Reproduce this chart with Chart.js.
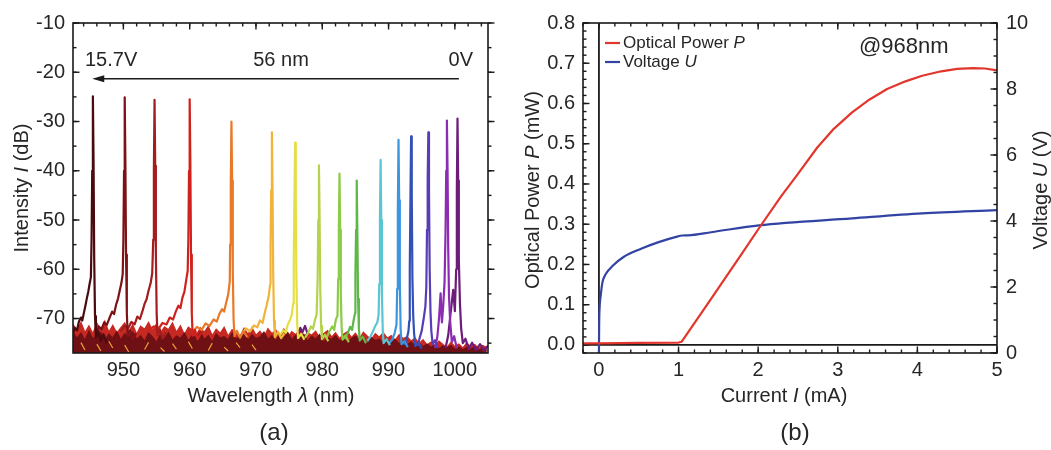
<!DOCTYPE html>
<html>
<head>
<meta charset="utf-8">
<title>Spectra and L-I-V</title>
<script src="https://cdn.jsdelivr.net/npm/chart.js@4.4.1/dist/chart.umd.min.js"></script>
<style>
  html, body { margin: 0; padding: 0; background: #fff; }
  #wrap { position: relative; width: 1051px; height: 450px; overflow: hidden; }
  #spectra { position: absolute; left: 0; top: 0; }
  #liv { position: absolute; left: 510px; top: 0; }
</style>
</head>
<body>
<div id="wrap">
  <canvas id="spectra" width="510" height="450"></canvas>
  <canvas id="liv" width="541" height="450"></canvas>
</div>
<script>
// ---------- panel (a): lasing spectra vs. tuning voltage ----------
const wlMin = 942.4, wlMax = 1005;
const dbMin = -77, dbMax = -10;
const wlTicks = [950, 960, 970, 980, 990, 1000];
const dbTicks = [-70, -60, -50, -40, -30, -20, -10];

// colours from 15.7 V (dark red) down to 0 V (purple)
const specColors = ['#4a0a0e', '#7c1216', '#a31c1e', '#d0221c', '#e8782a', '#f0b43a', '#e4e044', '#b4d24a',
                    '#8ccb46', '#5eb848', '#5ac6d2', '#3c96de', '#3350b6', '#5a3cb6', '#8c2cb2', '#6e1c7a'];

const spec01 = [[942.4,-73.0],[942.7,-71.9],[943.0,-72.4],[943.3,-70.6],[943.6,-69.8],[943.8,-70.4],[944.1,-68.5],[944.3,-67.2],[944.5,-65.8],[944.7,-64.6],[944.9,-63.0],[945.1,-61.6],[945.2,-54.0],[945.3,-40.0],[945.4,-24.9],[945.5,-38.0],[945.6,-58.0],[945.72,-69.5],[945.85,-73.8],[946.2,-72.6],[946.6,-74.5],[947.0,-73.2],[947.5,-75.0]];
const spec02 = [[945.9,-72.9],[946.3,-71.6],[946.7,-72.2],[947.1,-70.8],[947.5,-71.3],[947.9,-69.9],[948.3,-68.6],[948.6,-69.1],[948.9,-67.2],[949.2,-65.9],[949.4,-64.6],[949.7,-62.8],[949.9,-61.0],[950.0,-54.0],[950.1,-40.0],[950.2,-25.1],[950.3,-38.0],[950.4,-57.0],[950.52,-68.8],[950.65,-73.6],[951.0,-72.4],[951.4,-74.3],[951.9,-73.0]];
const spec03 = [[949.6,-72.6],[950.2,-71.5],[950.7,-72.0],[951.2,-70.7],[951.7,-71.2],[952.1,-69.6],[952.5,-70.1],[952.9,-68.4],[953.2,-67.0],[953.5,-66.1],[953.8,-64.3],[954.1,-62.9],[954.35,-60.8],[954.5,-54.0],[954.6,-40.0],[954.7,-25.6],[954.8,-39.0],[954.9,-57.0],[955.02,-69.0],[955.15,-73.4],[955.5,-72.2],[955.9,-74.1],[956.4,-72.8]];
const spec04 = [[953.8,-72.4],[954.6,-71.6],[955.3,-72.1],[955.9,-70.9],[956.5,-71.2],[957.0,-69.8],[957.5,-70.2],[957.9,-68.6],[958.3,-67.4],[958.6,-67.9],[958.9,-65.8],[959.2,-64.6],[959.45,-62.4],[959.7,-60.3],[959.8,-54.0],[959.9,-40.0],[960.0,-25.5],[960.1,-38.0],[960.2,-57.0],[960.32,-69.0],[960.45,-73.5],[960.8,-72.3],[961.2,-74.2],[961.7,-72.9]];
const spec05 = [[960.4,-72.8],[961.1,-71.7],[961.8,-72.3],[962.4,-71.0],[963.0,-71.5],[963.6,-70.2],[964.1,-70.6],[964.5,-69.0],[964.9,-68.1],[965.2,-68.6],[965.5,-66.8],[965.8,-65.2],[966.05,-62.4],[966.1,-55.0],[966.2,-43.0],[966.3,-30.0],[966.4,-42.0],[966.5,-60.0],[966.62,-70.0],[966.75,-73.6],[967.1,-72.5],[967.6,-73.9],[968.1,-72.6],[968.7,-73.8]];
const spec06 = [[967.8,-73.2],[968.5,-72.0],[969.1,-72.6],[969.7,-71.4],[970.2,-71.8],[970.6,-70.4],[971.0,-70.9],[971.3,-69.0],[971.6,-67.4],[971.9,-65.6],[972.15,-63.0],[972.2,-55.0],[972.3,-44.0],[972.4,-32.2],[972.5,-44.0],[972.6,-61.0],[972.72,-70.5],[972.85,-73.8],[973.3,-72.7],[973.8,-74.0],[974.3,-73.0]];
const spec07 = [[973.6,-73.5],[974.1,-72.4],[974.5,-72.9],[974.8,-71.2],[975.1,-70.4],[975.4,-69.2],[975.6,-67.0],[975.7,-58.0],[975.8,-46.0],[975.9,-34.3],[976.0,-46.0],[976.1,-62.0],[976.22,-71.0],[976.35,-74.0],[976.8,-73.1],[977.3,-74.3]];
const spec08 = [[977.4,-73.9],[977.9,-72.8],[978.3,-71.6],[978.6,-72.1],[978.9,-70.3],[979.15,-69.2],[979.3,-62.0],[979.4,-50.0],[979.5,-38.9],[979.6,-50.0],[979.7,-64.0],[979.82,-71.5],[979.95,-74.2],[980.4,-73.3],[980.9,-74.6]];
const spec09 = [[980.6,-74.0],[981.1,-72.6],[981.5,-71.6],[981.8,-72.3],[982.05,-70.2],[982.3,-69.4],[982.4,-62.0],[982.5,-52.0],[982.6,-40.6],[982.7,-52.0],[982.8,-65.0],[982.92,-71.8],[983.05,-74.3],[983.5,-73.4],[984.0,-74.8]];
const spec10 = [[983.4,-74.2],[983.9,-72.8],[984.2,-71.7],[984.5,-72.3],[984.75,-70.2],[984.95,-68.9],[985.0,-61.0],[985.1,-52.0],[985.2,-42.0],[985.3,-53.0],[985.4,-66.0],[985.52,-72.0],[985.65,-74.5],[986.1,-73.7],[986.6,-75.0]];
const spec11 = [[986.8,-74.6],[987.3,-73.6],[987.7,-72.4],[988.0,-71.5],[988.3,-70.8],[988.5,-69.2],[988.6,-63.0],[988.7,-50.0],[988.8,-37.8],[988.9,-50.0],[989.0,-65.0],[989.12,-72.2],[989.25,-75.0],[989.7,-74.2],[990.2,-75.4]];
const spec12 = [[990.1,-75.0],[990.6,-74.2],[990.95,-72.8],[991.2,-71.2],[991.3,-64.0],[991.4,-48.0],[991.5,-33.7],[991.6,-46.0],[991.7,-63.0],[991.82,-72.0],[991.95,-75.2],[992.4,-74.6],[992.9,-75.8]];
const spec13 = [[992.4,-75.4],[992.75,-74.1],[993.0,-72.6],[993.12,-70.5],[993.2,-60.0],[993.3,-46.0],[993.4,-33.0],[993.5,-45.0],[993.6,-62.0],[993.72,-69.5],[993.85,-73.0],[994.05,-75.6],[994.5,-74.9],[995.0,-76.1]];
const spec14 = [[994.4,-75.6],[994.7,-73.9],[995.0,-72.5],[995.3,-70.0],[995.55,-67.6],[995.7,-63.5],[995.8,-52.0],[995.9,-42.0],[996.0,-32.2],[996.1,-44.0],[996.2,-60.0],[996.32,-68.5],[996.45,-72.5],[996.65,-75.2],[997.0,-74.4],[997.4,-76.0]];
const spec15 = [[997.0,-76.0],[997.35,-73.8],[997.6,-70.2],[997.85,-64.9],[998.05,-70.8],[998.25,-67.3],[998.45,-62.5],[998.6,-52.0],[998.7,-40.0],[998.8,-29.8],[998.9,-40.0],[999.0,-56.0],[999.12,-65.5],[999.3,-70.8],[999.55,-74.8],[999.9,-73.6],[1000.3,-76.1]];
const spec16 = [[976.3,-73.9],[976.7,-71.9],[977.0,-72.8],[977.4,-71.5],[977.8,-73.2],[978.0,null],[998.6,-76.0],[999.0,-73.4],[999.35,-69.0],[999.75,-64.2],[1000.0,-68.5],[1000.2,-60.0],[1000.3,-44.0],[1000.4,-29.4],[1000.5,-42.0],[1000.6,-58.0],[1000.77,-67.0],[1000.95,-72.0],[1001.2,-75.0],[1001.6,-74.1],[1002.1,-76.2],[1002.6,-74.9],[1003.2,-76.4],[1003.8,-75.2],[1004.4,-76.5],[1005.0,-75.5]];
const spectra = [spec01, spec02, spec03, spec04, spec05, spec06, spec07, spec08,
                 spec09, spec10, spec11, spec12, spec13, spec14, spec15, spec16];

// background noise floor, sampled every 0.6 nm from 942.4 nm
const floorStart = 942.4, floorStep = 0.6;
const floorRed = [-71.2,-72.6,-70.8,-72.9,-71.5,-73.1,-71.0,-72.4,-70.6,-72.8,
  -71.4,-73.0,-71.9,-70.9,-72.7,-71.3,-73.2,-71.6,-72.2,-70.8,
  -72.5,-71.1,-73.0,-71.7,-72.3,-70.9,-72.8,-71.5,-73.3,-71.8,
  -72.4,-73.4,-71.9,-72.8,-71.6,-73.5,-72.2,-73.0,-71.8,-73.6,
  -72.3,-72.9,-73.7,-72.0,-73.2,-71.9,-73.4,-72.6,-73.8,-72.1,
  -73.1,-72.4,-73.6,-72.2,-73.9,-72.7,-73.3,-72.1,-73.7,-72.9,
  -73.4,-72.6,-74.0,-73.1,-72.5,-73.8,-72.9,-74.1,-73.2,-72.7,
  -73.9,-73.0,-74.2,-72.8,-73.6,-74.3,-73.1,-73.8,-72.9,-74.0,
  -73.5,-74.4,-73.3,-74.1,-73.7,-74.6,-74.0,-75.1,-74.3,-75.4,
  -74.8,-75.6,-74.6,-75.3,-75.9,-74.9,-75.7,-75.2,-76.0,-75.0,
  -75.8,-75.3,-76.1,-75.5,-75.9];
const floorMaroon = [-72.8,-74.1,-73.0,-74.5,-72.6,-74.2,-73.4,-72.9,-74.6,-73.2,
  -74.0,-72.7,-74.4,-73.1,-73.9,-72.8,-74.3,-73.5,-74.7,-73.0,
  -73.8,-74.9,-73.3,-74.2,-72.9,-74.5,-73.6,-74.1,-73.0,-74.6,
  -73.4,-74.0,-72.8,-74.3,-73.5,-74.8,-73.2,-74.0,-73.7,-74.4,
  -73.0,-74.2,-73.6,-72.9,-74.5,-73.3,-74.1,-73.8,-72.8,-74.3,
  -73.5,-74.6,-73.1,-73.9,-72.9,-74.4,-73.4,-74.0,-73.2,-74.7,
  -73.6,-74.2,-73.3,-74.8,-73.9,-74.3,-73.5,-74.6,-73.8,-75.0,
  -74.1,-73.6,-74.7,-74.0,-75.1,-73.9,-74.5,-74.2,-75.0,-74.4,
  -74.9,-74.3,-75.2,-74.6,-75.4,-74.8,-75.6,-75.0,-75.8,-75.2,
  -75.9,-75.4,-76.2,-75.6,-76.0,-75.5,-76.3,-75.8,-76.4,-75.9,
  -76.3,-75.7,-76.5,-76.0,-76.4];
const floorSpecks = [-75.6,null,-74.9,-76.4,null,null,-75.2,-76.6,null,-74.6,
  -76.0,null,null,-75.4,-76.8,null,-75.0,null,-76.3,-74.8,
  null,null,-75.9,-76.7,null,-75.1,-76.2,null,null,-74.7,
  -76.1,null,-75.5,null,-76.5,-75.0,null,null,-75.8,-76.6,
  null,-74.9,-75.9,null,null,-75.3,-76.4,null,-75.7,null];

// ---------- panel (b): light output and voltage vs. current ----------
const currentP = [-0.2, 0, 0.5, 1.0, 1.04, 1.4, 1.8, 2.01, 2.29, 2.5, 2.74, 2.95, 3.18, 3.4, 3.62, 3.85, 4.06, 4.3, 4.5, 4.7, 4.85, 5.0];
const powerP   = [0.004, 0.004, 0.005, 0.006, 0.008, 0.112, 0.228, 0.29, 0.37, 0.425, 0.49, 0.537, 0.578, 0.61, 0.636, 0.655, 0.669, 0.68, 0.686, 0.688, 0.687, 0.682];
const currentU = [0, 0.003, 0.008, 0.015, 0.022, 0.044, 0.088, 0.177, 0.309, 0.53, 0.75, 0.97, 1.05, 1.12, 1.41, 2.01, 3.18, 4.06, 5.0];
const voltageU = [0, 0.9, 1.35, 1.6, 1.74, 2.14, 2.40, 2.65, 2.91, 3.16, 3.36, 3.52, 3.56, 3.565, 3.66, 3.87, 4.08, 4.23, 4.33];
const currentTicks = [0, 1, 2, 3, 4, 5];
const powerTicks = [0, 0.1, 0.2, 0.3, 0.4, 0.5, 0.6, 0.7, 0.8];
const voltTicks = [0, 2, 4, 6, 8, 10];

const FONT = "'Liberation Sans', Arial, sans-serif";
const INK = '#262626';

function xy(pairs) { return pairs.map(p => ({ x: p[0], y: p[1] })); }
function grid(values) { return values.map((v, i) => ({ x: floorStart + i * floorStep, y: v })); }
function zip(xs, ys) { return xs.map((x, i) => ({ x: x, y: ys[i] })); }

// text made of plain and italic runs
function drawRich(ctx, t) {
  ctx.save();
  ctx.translate(t.x, t.y);
  if (t.rotate) ctx.rotate(t.rotate);
  ctx.fillStyle = t.color || INK;
  ctx.textBaseline = 'middle';
  ctx.textAlign = 'left';
  const fontOf = it => (it ? 'italic ' : '') + t.size + 'px ' + FONT;
  let total = 0;
  t.parts.forEach(p => { ctx.font = fontOf(p[1]); total += ctx.measureText(p[0]).width; });
  let cx = t.align === 'left' ? 0 : t.align === 'right' ? -total : -total / 2;
  t.parts.forEach(p => {
    ctx.font = fontOf(p[1]);
    ctx.fillText(p[0], cx, 0);
    cx += ctx.measureText(p[0]).width;
  });
  ctx.restore();
}

function drawTickSet(chart, spec) {
  const s = chart.scales[spec.scale], a = chart.chartArea, ctx = chart.ctx;
  const horiz = spec.side === 'top' || spec.side === 'bottom';
  const edge = a[spec.side];
  const into = (spec.side === 'top' || spec.side === 'left') ? 1 : -1;
  const sign = spec.outward ? -into : into;
  const one = (v, len) => {
    const p = s.getPixelForValue(v);
    ctx.beginPath();
    if (horiz) { ctx.moveTo(p, edge); ctx.lineTo(p, edge + sign * len); }
    else { ctx.moveTo(edge, p); ctx.lineTo(edge + sign * len, p); }
    ctx.stroke();
  };
  const n0 = Math.ceil(s.min / spec.minorStep - 1e-6);
  const n1 = Math.floor(s.max / spec.minorStep + 1e-6);
  for (let n = n0; n <= n1; n++) one(n * spec.minorStep, 3.5);
  spec.major.forEach(v => one(v, 6.5));
}

const decor = {
  id: 'decor',
  beforeDatasetsDraw(chart, args, o) {
    const ctx = chart.ctx, a = chart.chartArea;
    ctx.save();
    ctx.strokeStyle = '#1a1a1a';
    ctx.lineWidth = 1.4;
    (o.ticks || []).forEach(t => drawTickSet(chart, t));
    (o.zeroLines || []).forEach(z => {
      const s = chart.scales[z.scale], p = s.getPixelForValue(0);
      ctx.lineWidth = 1.8;
      ctx.beginPath();
      if (s.isHorizontal()) { ctx.moveTo(p, a.top); ctx.lineTo(p, a.bottom); }
      else { ctx.moveTo(a.left, p); ctx.lineTo(a.right, p); }
      ctx.stroke();
    });
    ctx.restore();
  },
  afterDraw(chart, args, o) {
    const ctx = chart.ctx, a = chart.chartArea;
    ctx.save();
    ctx.strokeStyle = '#1a1a1a';
    ctx.lineWidth = 1.6;
    ctx.strokeRect(a.left, a.top, a.right - a.left, a.bottom - a.top);
    if (o.arrow) {
      const r = o.arrow, sx = chart.scales.x, sy = chart.scales.y;
      const x0 = sx.getPixelForValue(r.from), x1 = sx.getPixelForValue(r.to), y = sy.getPixelForValue(r.at);
      ctx.lineWidth = 1.5;
      ctx.beginPath(); ctx.moveTo(x0, y); ctx.lineTo(x1 + 8, y); ctx.stroke();
      ctx.fillStyle = '#1a1a1a';
      ctx.beginPath(); ctx.moveTo(x1, y); ctx.lineTo(x1 + 12, y - 3.5); ctx.lineTo(x1 + 12, y + 3.5); ctx.closePath(); ctx.fill();
    }
    (o.keys || []).forEach(k => {
      ctx.strokeStyle = k.color; ctx.lineWidth = 2.2;
      ctx.beginPath(); ctx.moveTo(a.left + k.dx, a.top + k.dy); ctx.lineTo(a.left + k.dx + 15, a.top + k.dy); ctx.stroke();
      drawRich(ctx, { parts: k.parts, x: a.left + k.dx + 18, y: a.top + k.dy, size: 17, align: 'left' });
    });
    (o.texts || []).forEach(t => drawRich(ctx, t));
    ctx.restore();
  }
};

const tickFont = { family: FONT, size: 20 };
const hiddenGrid = { display: false, drawTicks: false };

// ---- spectra chart ----
const specSets = spectra.map((s, i) => ({
  data: xy(s), borderColor: specColors[i], borderWidth: 2.2, borderJoinStyle: 'round',
  pointRadius: 0, fill: false, spanGaps: false
}));
specSets.push({ data: grid(floorSpecks), borderColor: '#eea236', borderWidth: 1.2, pointRadius: 0, fill: false, spanGaps: false });
specSets.push({ data: grid(floorMaroon), borderColor: '#6e1014', backgroundColor: '#6e1014', borderWidth: 1.4, pointRadius: 0, fill: 'start' });
specSets.push({ data: grid(floorRed), borderColor: '#c62822', backgroundColor: '#c62822', borderWidth: 1.4, pointRadius: 0, fill: 'start' });

new Chart(document.getElementById('spectra'), {
  type: 'line',
  data: { datasets: specSets },
  options: {
    responsive: false, animation: false, events: [],
    layout: { padding: { top: 23, right: 22, left: 0, bottom: 0 } },
    elements: { line: { tension: 0 } },
    plugins: {
      legend: { display: false }, tooltip: { enabled: false },
      decor: {
        ticks: [
          { scale: 'x', side: 'top', major: wlTicks, minorStep: 2 },
          { scale: 'y', side: 'left', major: dbTicks, minorStep: 5 },
          { scale: 'y', side: 'right', major: dbTicks, minorStep: 5, outward: true }
        ],
        arrow: { from: 1000.6, to: 945.3, at: -21.3 },
        texts: [
          { parts: [['15.7V', false]], x: 85, y: 60, size: 20, align: 'left' },
          { parts: [['56 nm', false]], x: 281, y: 60, size: 20 },
          { parts: [['0V', false]], x: 473, y: 60, size: 20, align: 'right' },
          { parts: [['Intensity ', false], ['I', true], [' (dB)', false]], x: 22, y: 188, size: 20, rotate: -Math.PI / 2 },
          { parts: [['Wavelength ', false], ['\u03bb', true], [' (nm)', false]], x: 271, y: 396, size: 20 },
          { parts: [['(a)', false]], x: 274, y: 433, size: 24 }
        ]
      }
    },
    scales: {
      x: {
        type: 'linear', min: wlMin, max: wlMax, grid: hiddenGrid, border: { display: false },
        afterBuildTicks: s => { s.ticks = wlTicks.map(v => ({ value: v })); },
        afterFit: s => { s.height = 97; },
        ticks: { font: tickFont, color: INK, padding: 5, maxRotation: 0, autoSkip: false, callback: v => String(v) }
      },
      y: {
        type: 'linear', min: dbMin, max: dbMax, grid: hiddenGrid, border: { display: false },
        afterBuildTicks: s => { s.ticks = dbTicks.map(v => ({ value: v })); },
        afterFit: s => { s.width = 73; },
        ticks: { font: tickFont, color: INK, padding: 8, autoSkip: false, callback: v => String(v) }
      }
    }
  },
  plugins: [decor]
});

// ---- power / voltage chart ----
new Chart(document.getElementById('liv'), {
  type: 'line',
  data: {
    datasets: [
      { data: zip(currentP, powerP), yAxisID: 'y', borderColor: '#e2362c', borderWidth: 2.2, pointRadius: 0, tension: 0, borderJoinStyle: 'round' },
      { data: zip(currentU, voltageU), yAxisID: 'y2', borderColor: '#3243a4', borderWidth: 2.2, pointRadius: 0, cubicInterpolationMode: 'monotone' }
    ]
  },
  options: {
    responsive: false, animation: false, events: [],
    layout: { padding: { top: 23, right: 0, left: 0, bottom: 0 } },
    plugins: {
      legend: { display: false }, tooltip: { enabled: false },
      decor: {
        ticks: [
          { scale: 'x', side: 'top', major: currentTicks, minorStep: 0.2 },
          { scale: 'x', side: 'bottom', major: currentTicks, minorStep: 0.2 },
          { scale: 'y', side: 'left', major: powerTicks, minorStep: 0.02 },
          { scale: 'y2', side: 'right', major: voltTicks, minorStep: 0.5 }
        ],
        zeroLines: [{ scale: 'x' }, { scale: 'y' }],
        keys: [
          { color: '#e2362c', dx: 22, dy: 20, parts: [['Optical Power ', false], ['P', true]] },
          { color: '#3243a4', dx: 22, dy: 39, parts: [['Voltage ', false], ['U', true]] }
        ],
        texts: [
          { parts: [['@968nm', false]], x: 349, y: 47, size: 22, align: 'left' },
          { parts: [['Optical Power ', false], ['P', true], [' (mW)', false]], x: 23, y: 190, size: 20, rotate: -Math.PI / 2 },
          { parts: [['Voltage ', false], ['U', true], [' (V)', false]], x: 531, y: 190, size: 20, rotate: -Math.PI / 2 },
          { parts: [['Current ', false], ['I', true], [' (mA)', false]], x: 274, y: 396, size: 20 },
          { parts: [['(b)', false]], x: 285, y: 433, size: 24 }
        ]
      }
    },
    scales: {
      x: {
        type: 'linear', min: -0.2, max: 5, grid: hiddenGrid, border: { display: false },
        afterBuildTicks: s => { s.ticks = currentTicks.map(v => ({ value: v })); },
        afterFit: s => { s.height = 97; },
        ticks: { font: tickFont, color: INK, padding: 5, maxRotation: 0, autoSkip: false, callback: v => String(v) }
      },
      y: {
        type: 'linear', position: 'left', min: -0.02, max: 0.8, grid: hiddenGrid, border: { display: false },
        afterBuildTicks: s => { s.ticks = powerTicks.map(v => ({ value: v })); },
        afterFit: s => { s.width = 73; },
        ticks: { font: tickFont, color: INK, padding: 8, autoSkip: false, callback: v => v.toFixed(1) }
      },
      y2: {
        type: 'linear', position: 'right', min: 0, max: 10, grid: hiddenGrid, border: { display: false },
        afterBuildTicks: s => { s.ticks = voltTicks.map(v => ({ value: v })); },
        afterFit: s => { s.width = 54; },
        ticks: { font: tickFont, color: INK, padding: 9, autoSkip: false, callback: v => String(v) }
      }
    }
  },
  plugins: [decor]
});
</script>
</body>
</html>
